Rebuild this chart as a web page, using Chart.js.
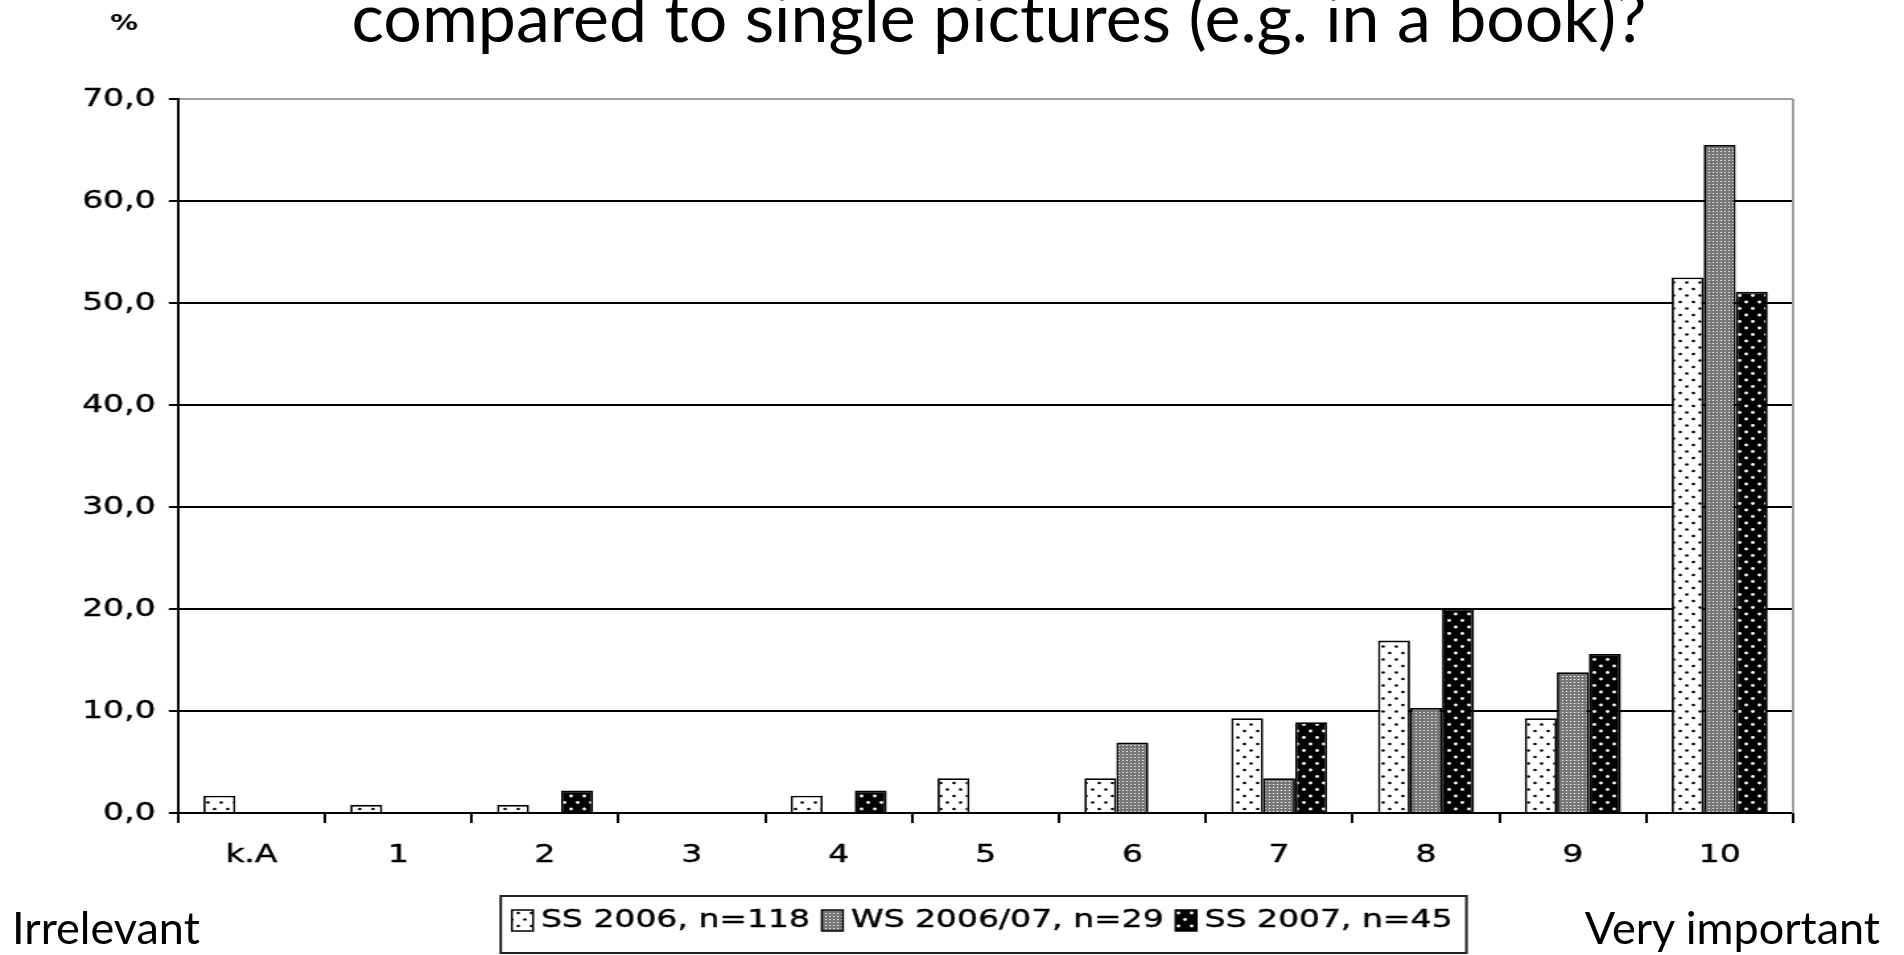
<!DOCTYPE html>
<html><head><meta charset="utf-8">
<script src="https://cdn.jsdelivr.net/npm/chart.js@4/dist/chart.umd.min.js"></script>
<style>
html,body{margin:0;padding:0;background:#fff;width:1904px;height:955px;overflow:hidden;}
#wrap{position:relative;width:1904px;height:955px;overflow:hidden;}
#c{position:absolute;left:0;top:0;}
.slide{position:absolute;font-family:Lato,'Open Sans',sans-serif;color:#000;white-space:nowrap;line-height:1;}
#title{left:0;width:1998px;text-align:center;top:-18px;font-size:68px;}
#lo{left:12px;top:905px;font-size:45px;}
#hi{right:24px;top:905px;font-size:45px;}
</style></head><body>
<div id="wrap">
<canvas id="c" width="1442" height="955" style="width:1904px;height:955px"></canvas>
<div class="slide" id="title">compared to single pictures (e.g. in a book)?</div>
<div class="slide" id="lo">Irrelevant</div>
<div class="slide" id="hi">Very important</div>
</div>
<script>
const categories = ['k.A','1','2','3','4','5','6','7','8','9','10'];
const seriesNames = ['SS 2006, n=118','WS 2006/07, n=29','SS 2007, n=45'];
const ss2006 = [1.7,0.8,0.8,0,1.7,3.4,3.4,9.3,16.9,9.3,52.5];
const ws2006 = [0,0,0,0,0,0,6.9,3.4,10.3,13.8,65.5];
const ss2007 = [0,0,2.2,0,2.2,0,0,8.9,20.0,15.6,51.1];
const yTickLabels = ['0,0','10,0','20,0','30,0','40,0','50,0','60,0','70,0'];
const yUnit = '%';

const canvas = document.getElementById('c');
const ctx = canvas.getContext('2d');

function dotPattern(bg, fg, w, h, pts, r) {
  const t = document.createElement('canvas'); t.width = w; t.height = h;
  const g = t.getContext('2d');
  g.fillStyle = bg; g.fillRect(0, 0, w, h);
  g.fillStyle = fg;
  pts.forEach(([x, y]) => { g.beginPath(); g.arc(x, y, r, 0, Math.PI * 2); g.fill(); });
  return ctx.createPattern(t, 'repeat');
}
function pixelPattern(bg, fg, w, h, pts) {
  const t = document.createElement('canvas'); t.width = w; t.height = h;
  const g = t.getContext('2d');
  g.fillStyle = bg; g.fillRect(0, 0, w, h);
  g.fillStyle = fg;
  pts.forEach(([x, y]) => g.fillRect(x, y, 1, 1));
  return ctx.createPattern(t, 'repeat');
}
const patLight = dotPattern('#ffffff', '#000000', 10, 13, [[2.5, 3], [7.5, 9.5]], 1.3);
const patGray = pixelPattern('#777777', '#ffffff', 3, 3, [[1, 1]]);
const patDark = dotPattern('#000000', '#ffffff', 10, 13, [[2.5, 3], [7.5, 9.5]], 1.4);

const FONT = 'DejaVu Sans';

const extras = {
  id: 'extras',
  afterDraw(chart) {
    const c = chart.ctx;
    const a = chart.chartArea;
    c.save();
    // right plot border (gray)
    c.strokeStyle = '#a0a0a0'; c.lineWidth = 2;
    c.beginPath(); c.moveTo(a.right, a.top); c.lineTo(a.right, a.bottom); c.stroke();
    // unit label
    c.fillStyle = '#000';
    c.font = 'bold 21px ' + FONT;
    c.textAlign = 'center'; c.textBaseline = 'middle';
    c.fillText(yUnit, 94, 25);
    // legend
    const ds = chart.data.datasets;
    c.font = '25px ' + FONT;
    c.textAlign = 'left'; c.textBaseline = 'middle';
    const boxW = 16, boxH = 21, textOff = 22, gap = 9;
    const widths = ds.map(d => c.measureText(d.label).width);
    const total = widths.reduce((s, w) => s + textOff + w, 0) + gap * (ds.length - 1);
    const cx = (a.left + a.right) / 2 - 2.5;
    let x = cx - total / 2;
    const yc = 920.5;
    const startX = x;
    ds.forEach((d, i) => {
      c.fillStyle = d.backgroundColor;
      c.fillRect(x, yc - boxH / 2, boxW, boxH);
      c.strokeStyle = '#000'; c.lineWidth = 1.5;
      c.strokeRect(x, yc - boxH / 2, boxW, boxH);
      c.fillStyle = '#000';
      c.fillText(d.label, x + textOff, yc);
      c.lineWidth = 0.4; c.strokeStyle = '#000';
      c.strokeText(d.label, x + textOff, yc);
      x += textOff + widths[i] + gap;
    });
    const endX = x - gap;
    c.strokeStyle = '#222'; c.lineWidth = 2;
    c.strokeRect(startX - 8.5, 896, endX - startX + 19, 57);
    c.restore();
  }
};

new Chart(ctx, {
  type: 'bar',
  data: {
    labels: categories,
    datasets: [
      { label: seriesNames[0], data: ss2006, backgroundColor: patLight, borderColor: '#000', borderWidth: 1.8 },
      { label: seriesNames[1], data: ws2006, backgroundColor: patGray, borderColor: '#000', borderWidth: 1.8 },
      { label: seriesNames[2], data: ss2007, backgroundColor: patDark, borderColor: '#000', borderWidth: 1.8 }
    ]
  },
  options: {
    responsive: false,
    animation: false,
    devicePixelRatio: 1,
    layout: { padding: { left: 0, right: 84, top: 99, bottom: 0 } },
    datasets: { bar: { categoryPercentage: 0.654, barPercentage: 1.0 } },
    plugins: {
      legend: { display: false },
      tooltip: { enabled: false },
      title: { display: false }
    },
    scales: {
      x: {
        grid: { display: true, drawOnChartArea: false, drawTicks: true, tickLength: 10, color: '#000', lineWidth: 2, offset: true },
        border: { display: true, color: '#000', width: 2 },
        ticks: { font: { family: FONT, size: 25 }, color: '#000', padding: 17, maxRotation: 0, autoSkip: false,
                 textStrokeColor: '#000', textStrokeWidth: 0.4 },
        afterFit(s) { s.height = 142; }
      },
      y: {
        min: 0, max: 70,
        ticks: { stepSize: 10, callback: (v, i) => yTickLabels[i], font: { family: FONT, size: 25 }, color: '#000', padding: 10,
                 textStrokeColor: '#000', textStrokeWidth: 0.4 },
        grid: { color: (c) => (c.tick && c.tick.value === 70) ? '#a0a0a0' : '#000', lineWidth: 2, tickLength: 7, tickColor: '#000' },
        border: { display: true, color: '#000', width: 2 },
        afterFit(s) { s.width = 134.8; }
      }
    }
  },
  plugins: [extras]
});
</script>
</body></html>
